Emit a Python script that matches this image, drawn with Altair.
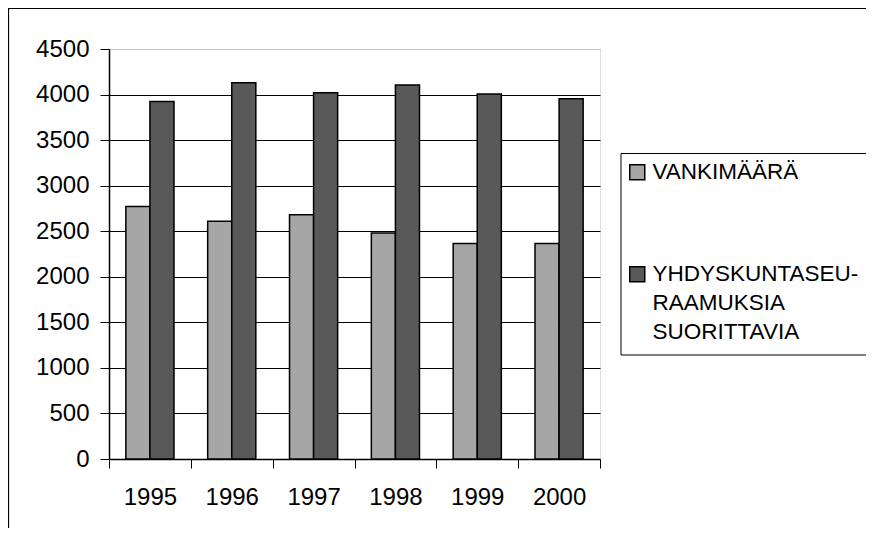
import altair as alt
import pandas as pd

# ---- data ----
years = ["1995", "1996", "1997", "1998", "1999", "2000"]
vankimaara = [2770, 2610, 2680, 2480, 2365, 2365]
yhdyskunta = [3925, 4130, 4020, 4105, 4005, 3955]
series = ["VANKIMÄÄRÄ", "YHDYSKUNTASEURAAMUKSIA SUORITTAVIA"]
series2_lines = ["YHDYSKUNTASEU-", "RAAMUKSIA", "SUORITTAVIA"]
y_ticks = [0, 500, 1000, 1500, 2000, 2500, 3000, 3500, 4000, 4500]
colors = ["#a6a6a6", "#595959"]

rows = []
for i, yr in enumerate(years):
    rows.append({"vuosi": yr, "sarja": series[0], "arvo": vankimaara[i]})
    rows.append({"vuosi": yr, "sarja": series[1], "arvo": yhdyskunta[i]})
df = pd.DataFrame(rows)

FONT = "Liberation Sans"
W, H = 491, 410
PAD = {"left": 101, "top": 41, "right": 266, "bottom": 69}

label_expr = "datum.label == '%s' ? [%s] : datum.label" % (
    series[1], ", ".join("'%s'" % s for s in series2_lines))

bars = alt.Chart(df).mark_bar(stroke="black", strokeWidth=1.5).encode(
    x=alt.X("vuosi:N", sort=years, title=None,
            scale=alt.Scale(paddingInner=0, paddingOuter=0),
            axis=alt.Axis(labelAngle=0, tickBand="extent", grid=False,
                          domainColor="black", domainWidth=1.5,
                          tickColor="black", tickSize=9, tickWidth=1,
                          labelPadding=17, labelFont=FONT, labelFontSize=24,
                          labelColor="black")),
    xOffset=alt.XOffset("sarja:N", sort=series,
                        scale=alt.Scale(paddingInner=0, paddingOuter=0.7)),
    y=alt.Y("arvo:Q", title=None,
            scale=alt.Scale(domain=[0, 4500], nice=False),
            axis=alt.Axis(values=y_ticks, format="d", grid=True,
                          gridColor=alt.condition("datum.value == 4500",
                                                  alt.value("#c0c0c0"),
                                                  alt.value("black")),
                          gridWidth=1,
                          domainColor="black", domainWidth=1.5,
                          tickColor="black", tickSize=9, tickWidth=1,
                          labelPadding=11, labelFont=FONT, labelFontSize=24,
                          labelColor="black")),
    color=alt.Color("sarja:N", sort=series,
                    scale=alt.Scale(domain=series, range=colors),
                    legend=alt.Legend(title=None, orient="none",
                                      legendX=517, legendY=112,
                                      direction="vertical",
                                      symbolType="square", symbolSize=225,
                                      symbolStrokeColor="black",
                                      symbolStrokeWidth=1.5, symbolOpacity=1,
                                      labelFont=FONT, labelFontSize=22.5,
                                      labelColor="black", labelOffset=4,
                                      labelLimit=500, labelExpr=label_expr,
                                      rowPadding=79, padding=0)),
)

one = pd.DataFrame({"k": [0]})
frame = alt.Chart(one).mark_rect(fillOpacity=0, stroke="black", strokeWidth=1.2).encode(
    x=alt.value(-100.5), x2=alt.value(W + 300),
    y=alt.value(-40.5), y2=alt.value(H + 120))
legend_box = alt.Chart(one).mark_rect(fillOpacity=0, stroke="black", strokeWidth=1).encode(
    x=alt.value(512), x2=alt.value(W + 300),
    y=alt.value(104.5), y2=alt.value(306))

chart = alt.layer(frame, legend_box, bars).properties(
    width=W, height=H,
    autosize=alt.AutoSizeParams(type="none"),
    padding=PAD,
    background="white",
).configure_view(
    fill="#c0c0c0", stroke="#808080", strokeWidth=1.5
).configure(
    style={"guide-label": {"lineHeight": 29}}
)

chart.save("out.html", embed_options={"renderer": "svg", "actions": False})
